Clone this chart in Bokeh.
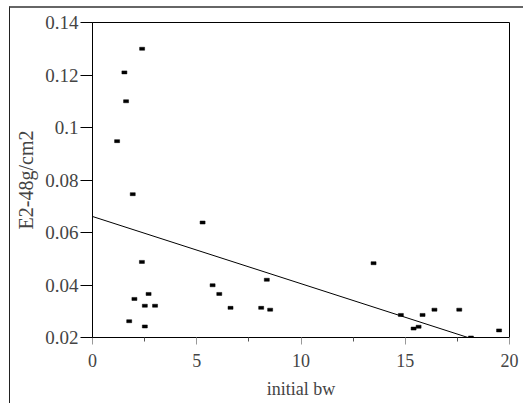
from bokeh.plotting import figure
from bokeh.embed import file_html
from bokeh.resources import INLINE
from bokeh.models import FixedTicker, CustomJSTickFormatter, ColumnDataSource

# data
bw = [2.38, 1.53, 1.61, 1.18, 1.93, 5.28, 2.37, 2.01, 2.69, 2.51, 3.00, 1.76, 2.51,
      5.76, 6.08, 6.62, 8.09, 8.36, 8.52, 13.48, 14.79, 15.83, 16.40, 17.59, 15.40,
      15.64, 18.15, 19.50]
e2 = [0.130, 0.121, 0.110, 0.0948, 0.0746, 0.0638, 0.0488, 0.0347, 0.0366, 0.0321,
      0.0321, 0.0262, 0.0242, 0.0399, 0.0366, 0.0313, 0.0313, 0.0420, 0.0306, 0.0483,
      0.0286, 0.0286, 0.0306, 0.0306, 0.0234, 0.0241, 0.0200, 0.0227]
fit_intercept = 0.0661
fit_slope = -0.00256
x_ticks = [0, 5, 10, 15, 20]
x_minor = [2.5, 7.5, 12.5, 17.5]
y_ticks = [0.02, 0.04, 0.06, 0.08, 0.10, 0.12, 0.14]

FONT = "Liberation Serif"

p = figure(width=514, height=397, x_range=(0, 20), y_range=(0.02, 0.14),
           output_backend="svg", toolbar_location=None,
           min_border_left=82, min_border_right=15, min_border_top=14, min_border_bottom=68,
           styles={"margin-left": "9px", "margin-top": "6px",
                   "border-top": "2px solid #666666", "border-left": "1px solid #222222"})

p.xgrid.visible = False
p.ygrid.visible = False
p.outline_line_color = "black"
p.outline_line_width = 1
p.background_fill_color = "white"
p.border_fill_color = "white"

src = ColumnDataSource(dict(x=bw, y=e2))
p.rect(x="x", y="y", width=5, height=3, width_units="screen", height_units="screen",
       source=src, fill_color="black", line_color="black", line_width=0.5)

x_end = (0.02 - fit_intercept) / fit_slope
p.line([0, x_end], [fit_intercept, fit_intercept + fit_slope * x_end],
       line_color="black", line_width=1)

xa = p.xaxis[0]
xa.ticker = FixedTicker(ticks=x_ticks, minor_ticks=x_minor)
xa.axis_label = "initial bw"
xa.axis_label_text_font = FONT
xa.axis_label_text_font_size = "18px"
xa.axis_label_text_font_style = "normal"
xa.axis_label_standoff = 9
xa.major_label_text_font = FONT
xa.major_label_text_font_size = "18px"
xa.major_label_standoff = 9
xa.major_tick_out = 7
xa.major_tick_in = 0
xa.major_tick_line_color = "#999999"
xa.minor_tick_out = 4
xa.minor_tick_in = 0
xa.minor_tick_line_color = "#555555"
xa.axis_line_color = "black"

ya = p.yaxis[0]
ya.ticker = FixedTicker(ticks=y_ticks, minor_ticks=[])
ya.formatter = CustomJSTickFormatter(code="return String(parseFloat(tick.toFixed(2)));")
ya.axis_label = "E2-48g/cm2"
ya.axis_label_text_font = FONT
ya.axis_label_text_font_size = "20px"
ya.axis_label_text_font_style = "normal"
ya.axis_label_standoff = 5
ya.major_label_text_font = FONT
ya.major_label_text_font_size = "19px"
ya.major_label_standoff = 2
ya.major_tick_out = 12
ya.major_tick_in = 0
ya.minor_tick_out = 0
ya.minor_tick_in = 0
ya.axis_line_color = "black"

open("out.html", "w").write(file_html(p, INLINE))
